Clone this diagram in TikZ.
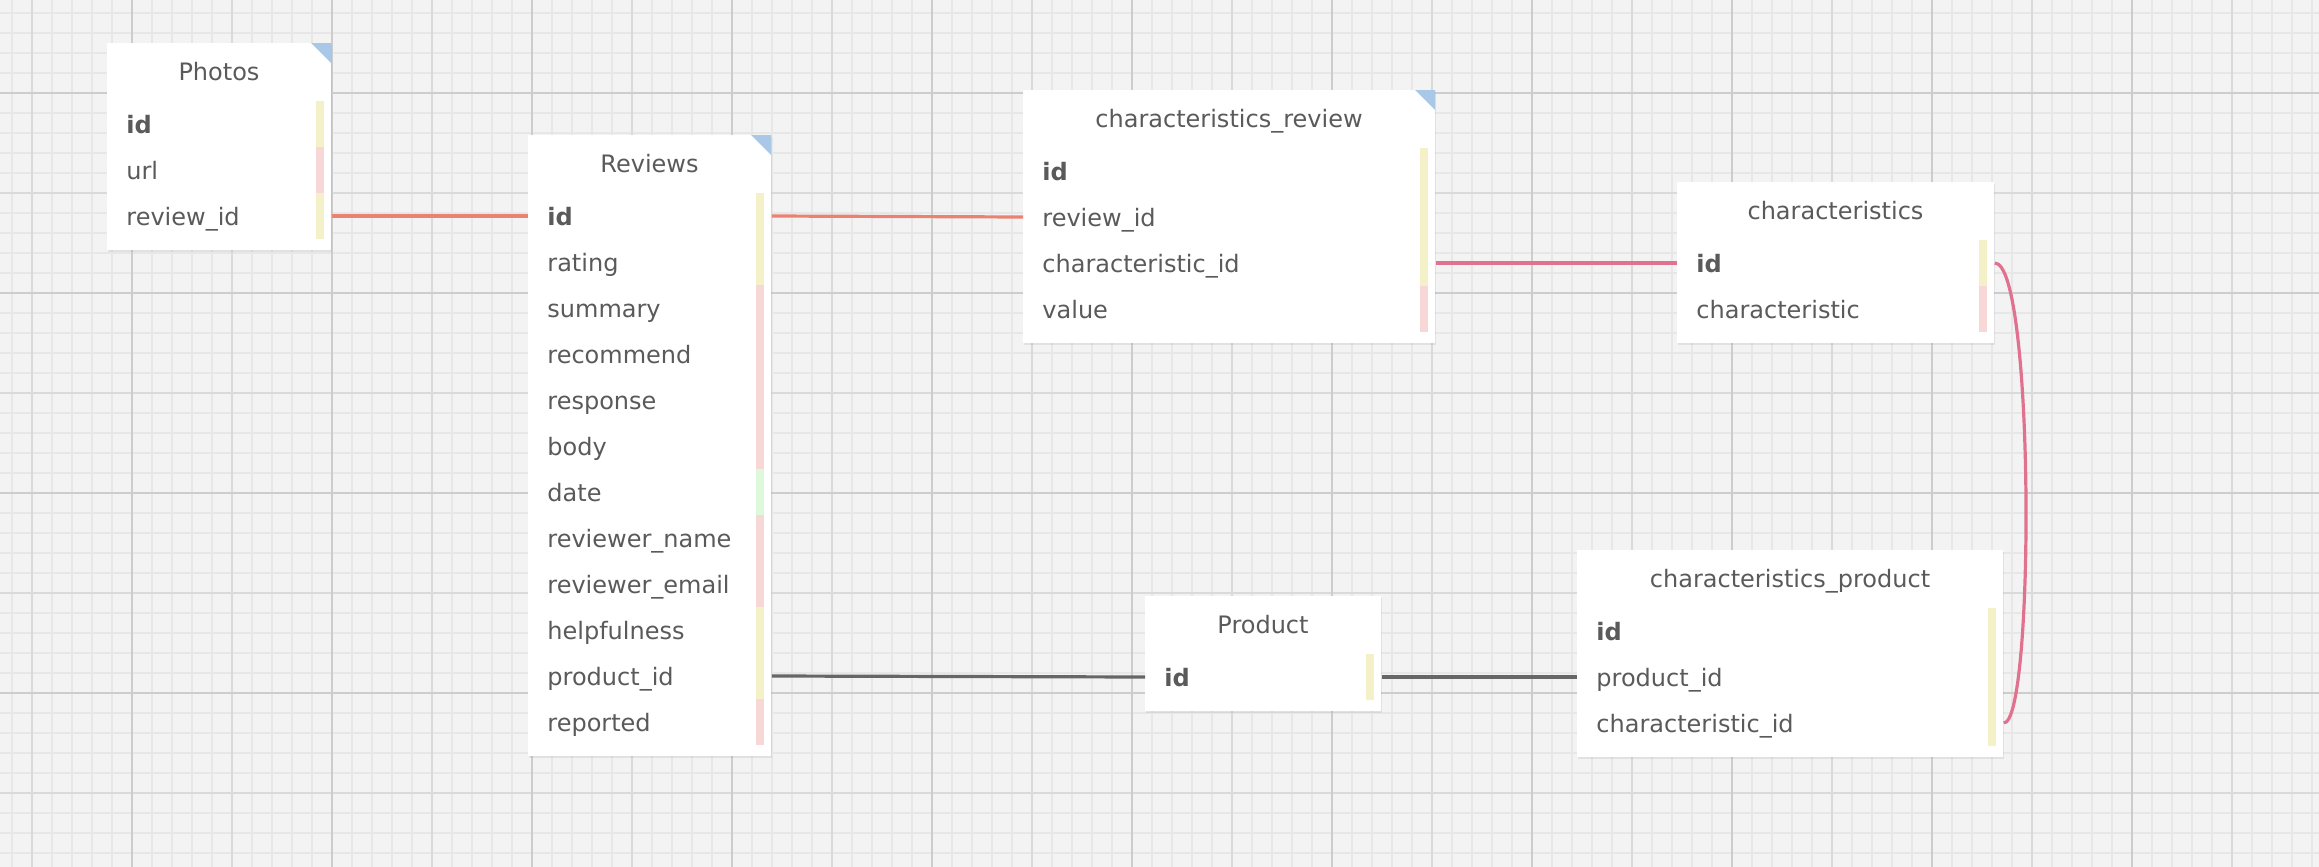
\documentclass[tikz,border=0pt]{standalone}
\usepackage{fontspec}
\setmainfont{DejaVu Sans}
\usetikzlibrary{shadows}

\definecolor{paper}{HTML}{F3F3F3}
\definecolor{gridminor}{HTML}{E7E7E7}
\definecolor{gridmajor}{HTML}{DADADA}
\definecolor{gridsuper}{HTML}{CDCDCD}
\definecolor{ink}{HTML}{5A5A5A}
\definecolor{keyyellow}{HTML}{F4F1C9}
\definecolor{textpink}{HTML}{F8D8D6}
\definecolor{dategreen}{HTML}{DEF8DB}
\definecolor{cornerblue}{HTML}{A9C7E6}
\definecolor{linkred}{HTML}{EA8272}
\definecolor{linkpink}{HTML}{E0718F}
\definecolor{linkgray}{HTML}{666666}

\begin{document}
\begin{tikzpicture}[x = 0.5pt, y = -0.5pt, font = \fontsize{12}{14}\selectfont,
	tablebox/.style = {fill = white, anchor = north west, inner sep = 0pt,
		drop shadow = {shadow xshift = 0.4pt, shadow yshift = -0.9pt, opacity = 0.15}},
	tabletitle/.style = {text = ink, inner sep = 0pt, text height = 9pt, text depth = 0pt},
	fieldrow/.style = {text = ink, anchor = west, inner sep = 0pt, text height = 9pt, text depth = 0pt},
	link/.style = {line width = 1.6pt}]

	% Canvas and grid
	
	\useasboundingbox (0, 0) rectangle (2319, 867);
	\fill [paper] (0, 0) rectangle (2319, 867);
	
	\foreach \x in {12, 32, ..., 2312}
		\draw [gridminor, line width = 1pt] (\x, 0) -- (\x, 867);
	\foreach \y in {13, 33, ..., 853}
		\draw [gridminor, line width = 1pt] (0, \y) -- (2319, \y);
	\foreach \x in {32, 132, ..., 2232}
		\draw [gridmajor, line width = 1pt] (\x, 0) -- (\x, 867);
	\foreach \y in {93, 193, ..., 793}
		\draw [gridmajor, line width = 1pt] (0, \y) -- (2319, \y);
	\foreach \x in {132, 332, ..., 2132}
		\draw [gridsuper, line width = 1pt] (\x, 0) -- (\x, 867);
	\foreach \y in {93, 293, ..., 693}
		\draw [gridsuper, line width = 1pt] (0, \y) -- (2319, \y);

	% Photos table
	
	\def\tx{107}		% Top left corner
	\def\ty{43}
	\def\tw{224}		% Width and height
	\def\th{207}
	
	\node [tablebox, minimum width = \tw * 0.5pt, minimum height = \th * 0.5pt] (photos) at (\tx, \ty) {};
	\node [tabletitle] (photos-title) at ({\tx + \tw / 2}, {\ty + 28}) {Photos};
	\foreach \fname/\flabel/\fcolor [count = \k from 0] in {id/\textbf{id}/keyyellow, url/url/textpink, reviewid/review\_id/keyyellow}
	{
		\node [fieldrow] (photos-\fname) at ({\tx + 19}, {\ty + 81 + 46 * \k}) {\flabel};
		\fill [\fcolor] ({\tx + \tw - 15}, {\ty + 58 + 46 * \k}) rectangle ({\tx + \tw - 7}, {\ty + 104 + 46 * \k});
	}
	\fill [cornerblue] ({\tx + \tw - 20}, \ty) -- ({\tx + \tw}, \ty) -- ({\tx + \tw}, {\ty + 20}) -- cycle;

	% Reviews table
	
	\def\tx{528}
	\def\ty{135}
	\def\tw{243}
	\def\th{621}
	
	\node [tablebox, minimum width = \tw * 0.5pt, minimum height = \th * 0.5pt] (reviews) at (\tx, \ty) {};
	\node [tabletitle] (reviews-title) at ({\tx + \tw / 2}, {\ty + 28}) {Reviews};
	\foreach \fname/\flabel/\fcolor [count = \k from 0] in {id/\textbf{id}/keyyellow, rating/rating/keyyellow,
		summary/summary/textpink, recommend/recommend/textpink, response/response/textpink, body/body/textpink,
		date/date/dategreen, reviewername/reviewer\_name/textpink, revieweremail/reviewer\_email/textpink,
		helpfulness/helpfulness/keyyellow, productid/product\_id/keyyellow, reported/reported/textpink}
	{
		\node [fieldrow] (reviews-\fname) at ({\tx + 19}, {\ty + 81 + 46 * \k}) {\flabel};
		\fill [\fcolor] ({\tx + \tw - 15}, {\ty + 58 + 46 * \k}) rectangle ({\tx + \tw - 7}, {\ty + 104 + 46 * \k});
	}
	\fill [cornerblue] ({\tx + \tw - 20}, \ty) -- ({\tx + \tw}, \ty) -- ({\tx + \tw}, {\ty + 20}) -- cycle;

	% characteristics_review table
	
	\def\tx{1023}
	\def\ty{90}
	\def\tw{412}
	\def\th{253}
	
	\node [tablebox, minimum width = \tw * 0.5pt, minimum height = \th * 0.5pt] (crev) at (\tx, \ty) {};
	\node [tabletitle] (crev-title) at ({\tx + \tw / 2}, {\ty + 28}) {characteristics\_review};
	\foreach \fname/\flabel/\fcolor [count = \k from 0] in {id/\textbf{id}/keyyellow, reviewid/review\_id/keyyellow,
		characteristicid/characteristic\_id/keyyellow, value/value/textpink}
	{
		\node [fieldrow] (crev-\fname) at ({\tx + 19}, {\ty + 81 + 46 * \k}) {\flabel};
		\fill [\fcolor] ({\tx + \tw - 15}, {\ty + 58 + 46 * \k}) rectangle ({\tx + \tw - 7}, {\ty + 104 + 46 * \k});
	}
	\fill [cornerblue] ({\tx + \tw - 20}, \ty) -- ({\tx + \tw}, \ty) -- ({\tx + \tw}, {\ty + 20}) -- cycle;

	% characteristics table
	
	\def\tx{1677}
	\def\ty{182}
	\def\tw{317}
	\def\th{161}
	
	\node [tablebox, minimum width = \tw * 0.5pt, minimum height = \th * 0.5pt] (chars) at (\tx, \ty) {};
	\node [tabletitle] (chars-title) at ({\tx + \tw / 2}, {\ty + 28}) {characteristics};
	\foreach \fname/\flabel/\fcolor [count = \k from 0] in {id/\textbf{id}/keyyellow, characteristic/characteristic/textpink}
	{
		\node [fieldrow] (chars-\fname) at ({\tx + 19}, {\ty + 81 + 46 * \k}) {\flabel};
		\fill [\fcolor] ({\tx + \tw - 15}, {\ty + 58 + 46 * \k}) rectangle ({\tx + \tw - 7}, {\ty + 104 + 46 * \k});
	}

	% Product table
	
	\def\tx{1145}
	\def\ty{596}
	\def\tw{236}
	\def\th{115}
	
	\node [tablebox, minimum width = \tw * 0.5pt, minimum height = \th * 0.5pt] (product) at (\tx, \ty) {};
	\node [tabletitle] (product-title) at ({\tx + \tw / 2}, {\ty + 28}) {Product};
	\node [fieldrow] (product-id) at ({\tx + 19}, {\ty + 81}) {\textbf{id}};
	\fill [keyyellow] ({\tx + \tw - 15}, {\ty + 58}) rectangle ({\tx + \tw - 7}, {\ty + 104});

	% characteristics_product table
	
	\def\tx{1577}
	\def\ty{550}
	\def\tw{426}
	\def\th{207}
	
	\node [tablebox, minimum width = \tw * 0.5pt, minimum height = \th * 0.5pt] (cprod) at (\tx, \ty) {};
	\node [tabletitle] (cprod-title) at ({\tx + \tw / 2}, {\ty + 28}) {characteristics\_product};
	\foreach \fname/\flabel/\fcolor [count = \k from 0] in {id/\textbf{id}/keyyellow, productid/product\_id/keyyellow,
		characteristicid/characteristic\_id/keyyellow}
	{
		\node [fieldrow] (cprod-\fname) at ({\tx + 19}, {\ty + 81 + 46 * \k}) {\flabel};
		\fill [\fcolor] ({\tx + \tw - 15}, {\ty + 58 + 46 * \k}) rectangle ({\tx + \tw - 7}, {\ty + 104 + 46 * \k});
	}

	% Draw relations
	
	\draw [link, linkred] (photos-reviewid -| photos.east) -- (reviews-id -| reviews.west);
	\draw [link, linkred] (reviews-id -| reviews.east) -- (crev-reviewid -| crev.west);
	\draw [link, linkpink] (crev-characteristicid -| crev.east) -- (chars-id -| chars.west);
	\draw [link, linkpink] (chars-id -| chars.east) .. controls +(40, 0) and +(31, 0) .. (cprod-characteristicid -| cprod.east);
	\draw [link, linkgray] (reviews-productid -| reviews.east) -- (product-id -| product.west);
	\draw [link, linkgray] (product-id -| product.east) -- (cprod-productid -| cprod.west);

\end{tikzpicture}
\end{document}
